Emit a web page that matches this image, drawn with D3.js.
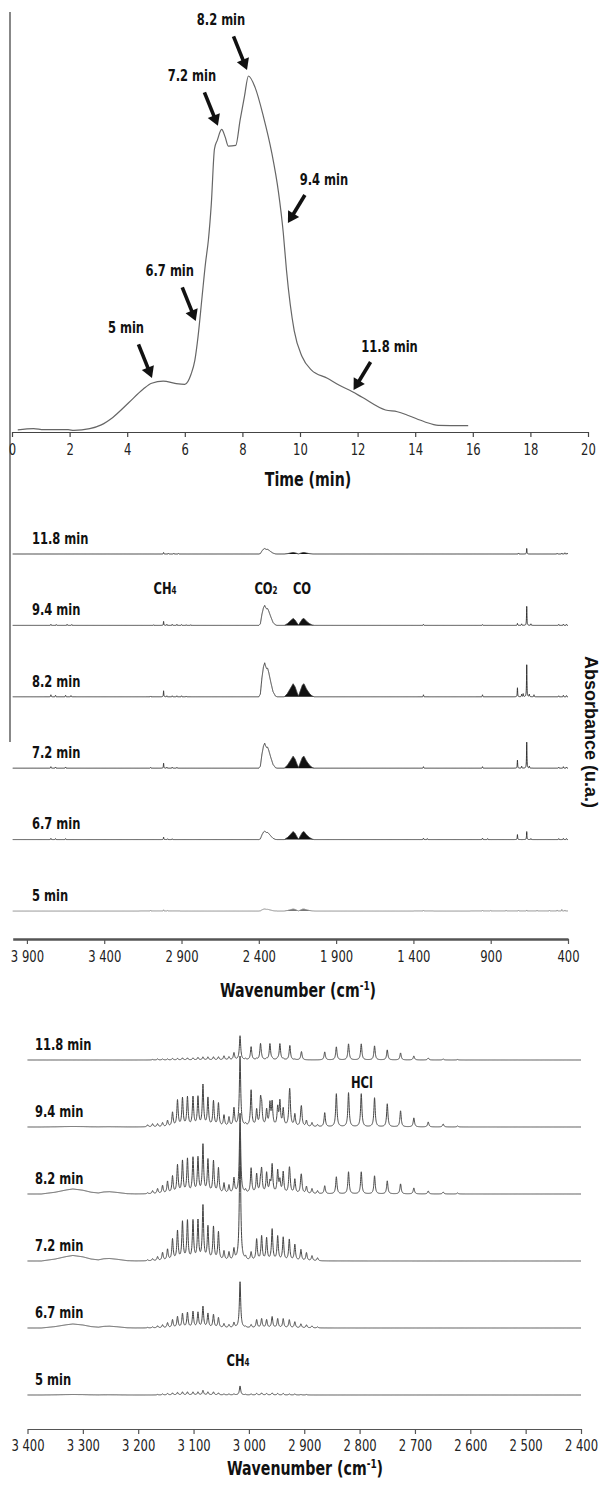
<!DOCTYPE html>
<html><head><meta charset="utf-8">
<script src="https://cdn.jsdelivr.net/npm/d3@7"></script>
<style>
html,body{margin:0;padding:0;background:#fff;}
svg{display:block;}
</style></head><body>
<svg id="c" width="606" height="1491"></svg>
<script>
// ================= DATA =================
// Panel 1: evolution profile
const timeTicks = [0,2,4,6,8,10,12,14,16,18,20];
const evolutionTime = [0.2,0.75,1.1,1.95,2.15,2.7,3.1,3.5,4.05,4.55,4.85,5.25,5.7,6.0,6.22,6.35,6.46,6.6,6.72,6.82,6.92,7.03,7.13,7.28,7.4,7.51,7.77,7.92,8.07,8.21,8.44,8.73,9.02,9.25,9.42,9.53,9.8,10.07,10.4,10.95,11.35,11.82,12.16,12.97,13.38,13.78,14.32,14.8,15.84];
const evolutionSignal = [0.6,0.95,0.65,0.65,0.45,0.95,2.0,4.1,8.2,12.0,13.7,14.3,13.6,13.4,16.3,20.2,26.8,38.0,47.5,54,64,79.5,82,85,82.9,80.3,80.5,87.6,94.2,100,96.8,88.6,78.4,67.5,55.9,45.5,28.4,21.2,17.4,15.1,13.2,11.3,9.75,6.18,5.7,4.58,2.89,1.88,1.77];
const arrowLabels = ["5 min","6.7 min","7.2 min","8.2 min","9.4 min","11.8 min"];
const arrowTipTime = [4.86,6.38,7.15,8.16,9.58,11.86];
const arrowTipSignal = [15.2,31.2,86,101.7,58.7,11.8];
const arrowSide = ["left","left","left","left","right","right"];

// Spectra (top to bottom)
const spectraLabels = ["11.8 min","9.4 min","8.2 min","7.2 min","6.7 min","5 min"];

// Panel 2: full FTIR spectra
const midTicks = [3900,3400,2900,2400,1900,1400,900,400];
const midTickLabels = ["3 900","3 400","2 900","2 400","1 900","1 400","900","400"];
const co2Shape = [[2400,0],[2390,0.08],[2380,0.55],[2370,0.88],[2362,1],[2356,0.9],[2350,0.83],[2343,0.84],[2336,0.72],[2322,0.42],[2308,0.15],[2292,0.02],[2282,0]];
const coShape = [[2235,0],[2215,0.25],[2195,0.65],[2178,1],[2165,0.75],[2152,0.3],[2143,0.05],[2133,0.4],[2118,0.9],[2108,1],[2092,0.6],[2072,0.25],[2055,0.06],[2040,0]];
const co2Peak = [5.5,20,34,25,8.5,2];
const coPeak = [1.5,7,13,12,8,2];
const midLines = [
  [[3016,1.5],[2985,0.8],[2950,0.8],[2920,0.6],[720,1],[667,5.5],[470,0.8],[440,1],[420,1.2],[405,1]],
  [[3745,1],[3710,0.8],[3640,1],[3610,0.8],[3080,0.6],[3016,4],[2995,1],[2960,1],[2930,1],[2900,0.8],[2870,0.6],[2840,0.6],[1335,1],[953,0.8],[727,2],[700,1.5],[667,19],[640,1.5],[460,1],[430,1.2],[410,1]],
  [[3745,2],[3715,1.5],[3650,1.5],[3615,1.2],[3100,0.8],[3016,6],[2995,1],[2960,1],[2930,1],[2900,1],[2870,0.8],[1335,2],[953,2],[727,9],[700,2.5],[690,3],[667,32],[650,2.5],[620,2],[460,1],[430,1.5],[410,1.2]],
  [[3745,1.5],[3715,1.2],[3650,1.2],[3100,0.8],[3016,5],[2995,1],[2960,1],[2930,0.8],[1335,1.5],[953,1.5],[727,8],[700,2],[667,26],[650,2],[460,1],[430,1.5],[410,1.2]],
  [[3745,1.2],[3715,1],[3650,1],[3016,2.5],[2990,0.8],[2960,0.8],[1335,1.5],[1310,1],[953,1.5],[920,1],[727,5],[667,8],[640,1],[460,1],[430,1.2],[410,1]],
  [[3100,0.8],[3016,1.2],[2990,0.6],[1335,0.8],[953,0.8],[900,0.6],[800,0.8],[720,0.8],[667,1],[600,0.8],[520,0.8],[470,1],[440,1.5],[420,1]]
];

// Panel 3: zoom 3400-2400
const lowTicks = [3400,3300,3200,3100,3000,2900,2800,2700,2600,2500,2400];
const lowTickLabels = ["3 400","3 300","3 200","3 100","3 000","2 900","2 800","2 700","2 600","2 500","2 400"];
const ch4RPos = [3183,3174,3165,3156,3147,3138,3129,3120,3111,3101,3092,3083,3074,3064,3055,3045,3036,3027];
const ch4RHeights = [
  [0,0.5,1,1,1,1.5,1.5,2,2,2,2.5,3,3,3,3,4,3,7],
  [2,3,3,4,6,14,26,28,29,29,29,41,28,25,23,11,9,18],
  [1,3,5,8,12,17,28,32,34,35,35,48,33,32,25,10,8,15],
  [1,2,4,8,11,21,29,38,39,39,39,54,33,33,28,9,8,11],
  [0.5,1,2,3,5,8,11,14,15,16,15,21,14,13,10,4,3,5],
  [0,0,0.5,1,1.5,2,2.5,3,3,3,3,4.5,3,3,2,1,1,1]
];
const ch4QPos = 3016;
const ch4QHeights = [24,70,80,122,46,9];
const ch4PPos = [3006,2996,2986,2977,2968,2958,2948,2938,2927,2917,2906,2896,2886,2876];
const ch4PHeights = [
  [1,1,1,1,1,1,1,1,0.5,0.5,0.5,0,0,0],
  [2,6,16,18,16,23,18,17,16,12,8,6,4,2],
  [3,7,19,22,20,28,22,21,19,14,10,7,5,3],
  [3,8,21,24,22,31,24,23,21,16,11,8,5,3],
  [1,3,8,9,8,11,9,9,8,6,4,3,2,1],
  [0.5,1,1.5,2,1.5,2,1.5,1.5,1,1,0.5,0.5,0,0]
];
const hclPos = [2996,2979,2962,2944,2926,2905,2863,2842,2820,2797,2773,2750,2726,2702,2676,2649,2623];
const hclHeights = [
  [12,16,16,16,14,8,8,13,16,16,14,10,7,4,2,1,0.5],
  [30,24,22,24,26,15,14,33,34,33,29,23,16,9,5,3,1],
  [18,10,10,12,10,12,8,17,22,22,18,13,10,6,3,2,1],
  [0,0,0,0,0,0,0,0,0,0,0,0,0,0,0,0,0],
  [0,0,0,0,0,0,0,0,0,0,0,0,0,0,0,0,0],
  [0,0,0,0,0,0,0,0,0,0,0,0,0,0,0,0,0]
];
const bumpShape = [[3375,0],[3350,0.35],[3330,0.8],[3318,1],[3300,0.75],[3285,0.35],[3272,0.2],[3262,0.4],[3252,0.45],[3238,0.3],[3220,0.05],[3205,0]];
const bumpHeights = [0,0.5,5,5.5,4,0.5];

// ================= DRAWING =================
const COND = '"Liberation Sans Narrow","Arial Narrow","DejaVu Sans Condensed",sans-serif';
const SX = 0.8;   // horizontal condensing of the label font
const svg = d3.select("#c");

function envelope(shape){
  return d3.scaleLinear().domain(shape.map(d=>d[0])).range(shape.map(d=>d[1])).clamp(true);
}
function sample(wHi, wLo, step, gamma, lines, envs){
  const pts = [];
  for (let w = wHi; w >= wLo - 1e-9; w -= step){
    let v = 0;
    for (const [p,h] of lines){ if (h===0) continue; const d=(w-p)/gamma; v += h/(1+d*d); }
    for (const e of envs) v += e.h * e.f(w);
    pts.push([w,v]);
  }
  return pts;
}
function styleAxis(g, width, color){
  g.select(".domain").attr("stroke", color).attr("stroke-width", width);
  g.selectAll(".tick line").attr("stroke", color).attr("stroke-width", 1.2);
  g.selectAll(".tick text").attr("font-family", COND).attr("font-size", 15).attr("fill","#222")
    .attr("transform","scale(0.86,1)");
}
// text centred vertically on y, using the alphabetic baseline so sub/superscripts sit correctly
function label(x, y, str, size, anchor, sx){
  return svg.append("text").attr("transform",`translate(${x},${y + size*0.36}) scale(${sx||SX},1)`)
    .attr("text-anchor",anchor||"middle")
    .attr("font-family",COND).attr("font-weight","bold").attr("font-size",size).attr("fill","#111")
    .text(str);
}

// ---- Panel 1 ----
const tx = d3.scaleLinear().domain([0,20]).range([12,588]);
const ty = d3.scaleLinear().domain([0,100]).range([432,76]);

svg.append("line").attr("x1",10).attr("x2",10).attr("y1",12).attr("y2",742)
  .attr("stroke","#555").attr("stroke-width",1.4);

const gTop = svg.append("g").attr("transform","translate(0,432)")
  .call(d3.axisBottom(tx).tickValues(timeTicks).tickSize(5).tickSizeOuter(0).tickPadding(7).tickFormat(d3.format("d")));
styleAxis(gTop, 1.2, "#444");

svg.append("path")
  .datum(evolutionTime.map((t,i)=>[t,evolutionSignal[i]]))
  .attr("fill","none").attr("stroke","#666").attr("stroke-width",1.2)
  .attr("d", d3.line().x(d=>tx(d[0])).y(d=>ty(d[1])).curve(d3.curveMonotoneX));

label(308, 479, "Time (min)", 19, "middle", 0.83);

const arrowGeom = {
  left:  {tail:[-13.5,-33.5], label:[-26,-51]},
  right: {tail:[17,-28], label:[36,-44]}
};
arrowLabels.forEach((lab,i)=>{
  const g = arrowGeom[arrowSide[i]];
  const tipX = tx(arrowTipTime[i]), tipY = ty(arrowTipSignal[i]);
  const tailX = tipX + g.tail[0], tailY = tipY + g.tail[1];
  const dx = tipX - tailX, dy = tipY - tailY, L = Math.hypot(dx,dy);
  const ux = dx/L, uy = dy/L, px = -uy, py = ux;
  const headL = 11, headW = 6.5;
  const bx = tipX - ux*headL, by = tipY - uy*headL;
  svg.append("line").attr("x1",tailX).attr("y1",tailY).attr("x2",bx+ux).attr("y2",by+uy)
    .attr("stroke","#111").attr("stroke-width",3.6);
  svg.append("path").attr("fill","#111")
    .attr("d",`M${tipX},${tipY}L${bx+px*headW},${by+py*headW}L${bx-px*headW},${by-py*headW}Z`);
  label(tipX+g.label[0], tipY+g.label[1], lab, 16, "middle");
});

// ---- Panel 2 ----
const mx = d3.scaleLinear().domain([3992,400]).range([12.7,568]);
const mBase = d3.scalePoint().domain(spectraLabels).range([554,911]);
const my = d3.scaleLinear().domain([0,100]).range([0,-100]);
const co2F = envelope(co2Shape), coF = envelope(coShape);

spectraLabels.forEach((lab,i)=>{
  const base = mBase(lab);
  const pts = sample(3992, 400, 0.5, 1.5, midLines[i], [{h:co2Peak[i], f:co2F},{h:coPeak[i], f:coF}]);
  const color = i===5 ? "#888" : "#333";
  svg.append("path").datum(coShape)
    .attr("fill", i===5 ? "#777" : "#111")
    .attr("d", d3.area().x(d=>mx(d[0])).y0(base).y1(d=>base+my(coPeak[i]*d[1])));
  svg.append("path").datum(pts).attr("fill","none").attr("stroke",color).attr("stroke-width",1)
    .attr("d", d3.line().x(d=>mx(d[0])).y(d=>base+my(d[1])));
  label(32, base-16, lab, 16, "start");
});

const gMid = svg.append("g").attr("transform","translate(0,939)")
  .call(d3.axisBottom(mx).tickValues(midTicks).tickSize(5).tickSizeOuter(0).tickPadding(7)
    .tickFormat((d,i)=>midTickLabels[i]));
styleAxis(gMid, 2.4, "#555");

function molLabel(x,y,main,sub){
  const t = label(x, y, null, 16, "middle");
  t.append("tspan").text(main);
  if (sub) t.append("tspan").attr("font-size",10).text(sub);
}
molLabel(165,588,"CH","4");
molLabel(266,588,"CO","2");
molLabel(302,588,"CO",null);

function waveLabel(x,y){
  const t = label(x, y, null, 19, "middle", 0.83);
  t.append("tspan").text("Wavenumber  (cm");
  t.append("tspan").attr("font-size",12).attr("dy",-7).text("-1");
  t.append("tspan").attr("dy",7).text(")");
}
waveLabel(298,990);

svg.append("text").attr("transform","translate(585,732) rotate(90)").attr("text-anchor","middle")
  .attr("font-family",'"Liberation Sans",Arial,sans-serif').attr("font-weight","bold").attr("font-size",18)
  .attr("fill","#111").text("Absorbance (u.a.)");

// ---- Panel 3 ----
const lx = d3.scaleLinear().domain([3400,2400]).range([27.5,581]);
const lBase = d3.scalePoint().domain(spectraLabels).range([1060,1395]);
const ly = d3.scaleLinear().domain([0,100]).range([0,-100]);
const bumpF = envelope(bumpShape);

spectraLabels.forEach((lab,i)=>{
  const base = lBase(lab);
  const lines = []
    .concat(ch4RPos.map((p,j)=>[p,ch4RHeights[i][j]]))
    .concat([[ch4QPos,ch4QHeights[i]]])
    .concat(ch4PPos.map((p,j)=>[p,ch4PHeights[i][j]]))
    .concat(hclPos.map((p,j)=>[p,hclHeights[i][j]]));
  const pts = sample(3400, 2400, 0.25, 1.4, lines, [{h:bumpHeights[i], f:bumpF}]);
  svg.append("path").datum(pts).attr("fill","none").attr("stroke","#444").attr("stroke-width",1)
    .attr("d", d3.line().x(d=>lx(d[0])).y(d=>base+ly(d[1])));
  label(35, base-16, lab, 16, "start");
});

const gLow = svg.append("g").attr("transform","translate(0,1429)")
  .call(d3.axisBottom(lx).tickValues(lowTicks).tickSize(5).tickSizeOuter(0).tickPadding(6)
    .tickFormat((d,i)=>lowTickLabels[i]));
styleAxis(gLow, 1.2, "#555");

molLabel(362,1082,"HCl",null);
molLabel(238,1360,"CH","4");
waveLabel(305,1468);
</script>
</body></html>
